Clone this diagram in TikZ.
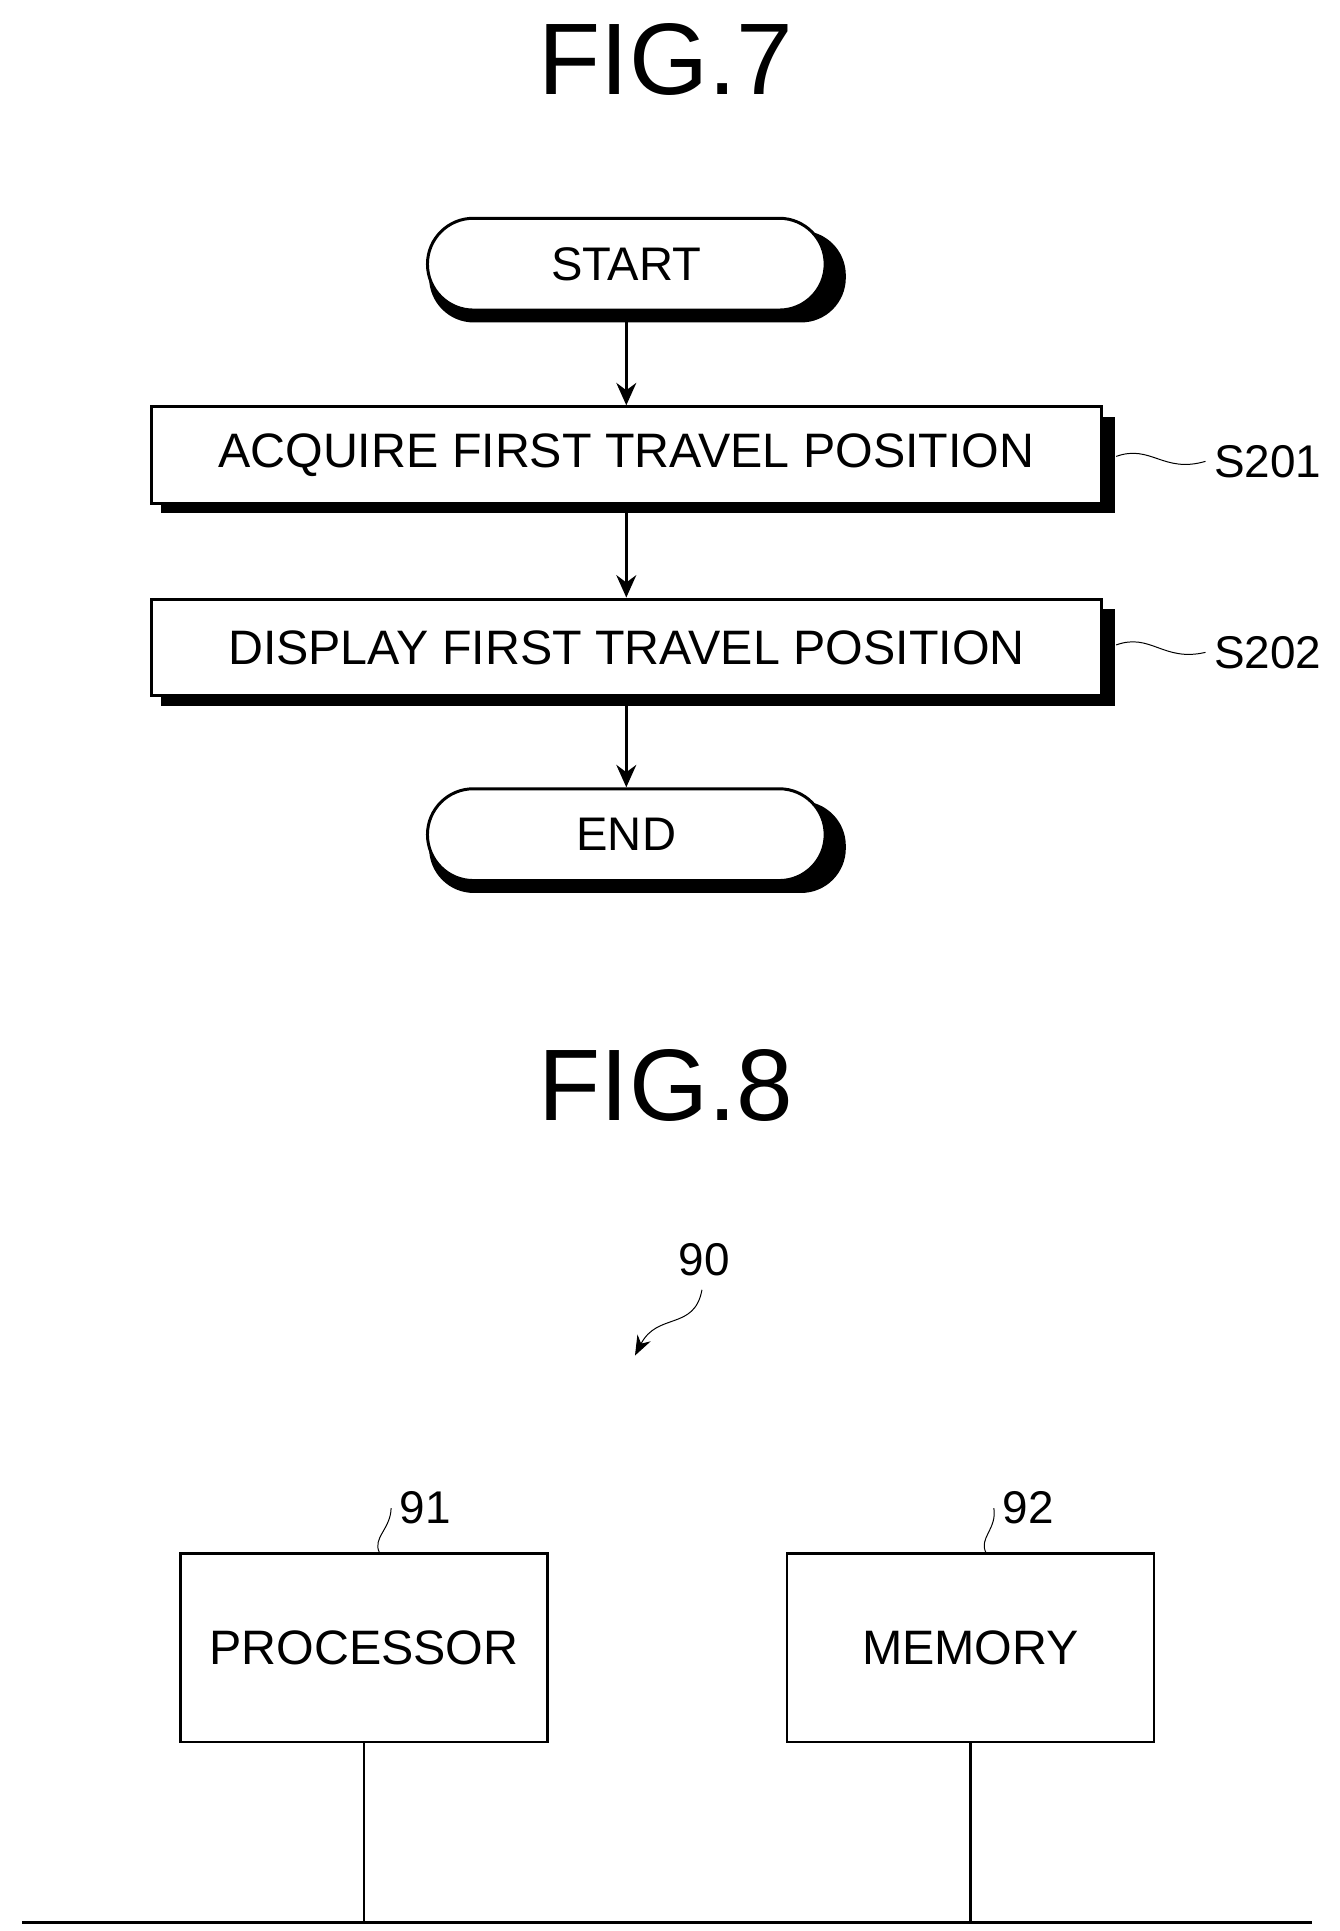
\documentclass[tikz,border=0pt]{standalone}
\usepackage{fontspec}
\setmainfont{Liberation Sans}
\usetikzlibrary{arrows.meta,positioning,shapes.misc}
\tikzset{
  terminal/.style={draw, line width=1.2pt, rounded rectangle, minimum width=167pt, minimum height=37pt, fill=white, font=\fontsize{19}{24}\selectfont},
  process/.style={draw, line width=1.2pt, minimum width=383pt, minimum height=39pt, fill=white, font=\fontsize{19.5}{24}\selectfont},
  unit/.style={draw, line width=1.1pt, minimum width=148pt, minimum height=76pt, font=\fontsize{19.5}{24}\selectfont},
  flow/.style={line width=1.2pt, -{Stealth[length=9pt,width=8pt]}},
  tag/.style={font=\fontsize{18.5}{22}\selectfont}
}
\begin{document}
\begin{tikzpicture}[x=0.5pt, y=-0.5pt]
\useasboundingbox (0,0) rectangle (1080,1557);

% FIG.7
\node (fig7) at (537,48) {\fontsize{41}{48}\selectfont FIG.7};
\fill (346,186) [rounded corners=18pt] rectangle (682,260);
\node[terminal] (start) at (505,213) {START};
\fill (130,336) rectangle (899,414);
\node[process] (s201) at (505,367) {ACQUIRE FIRST TRAVEL POSITION};
\fill (130,491) rectangle (899,569);
\node[process] (s202) at (505,522) {DISPLAY FIRST TRAVEL POSITION};
\fill (346,646) [rounded corners=18pt] rectangle (682,720);
\node[terminal] (end) at (505,673) {END};

\draw[flow] (start.south) -- (s201.north);
\draw[flow] (s201.south) -- (s202.north);
\draw[flow] (s202.south) -- (end.north);

\node[tag, anchor=west] (l201) at (972,372) {S201};
\node[tag, anchor=west] (l202) at (972,526) {S202};
\draw (900,368) .. controls (928,358) and (938,382) .. (l201.west);
\draw (900,520) .. controls (928,510) and (938,534) .. (l202.west);

% FIG.8
\node (fig8) at (537,875) {\fontsize{41}{48}\selectfont FIG.8};
\node[tag] (n90) at (568,1016) {90};
\draw[-{Stealth[length=8pt,width=6pt]}] (566,1040) .. controls (560,1073) and (530,1058) .. (512,1093);

\node[unit] (proc) at (293.5,1328.5) {PROCESSOR};
\node[unit] (mem) at (782.5,1328.5) {MEMORY};
\node[tag] (n91) at (343,1216) {91};
\node[tag] (n92) at (829,1216) {92};
\draw (306,1252) .. controls (300,1240) and (315,1233) .. (n91.west);
\draw (795,1252) .. controls (789,1240) and (804,1233) .. (n92.west);

\coordinate (busl) at (18,1550);
\coordinate (busr) at (1058,1550);
\draw[line width=1.2pt] (busl) -- (busr);
\draw[line width=1.1pt] (proc.south) -- (proc.south |- busl);
\draw[line width=1.1pt] (mem.south) -- (mem.south |- busl);
\end{tikzpicture}
\end{document}
